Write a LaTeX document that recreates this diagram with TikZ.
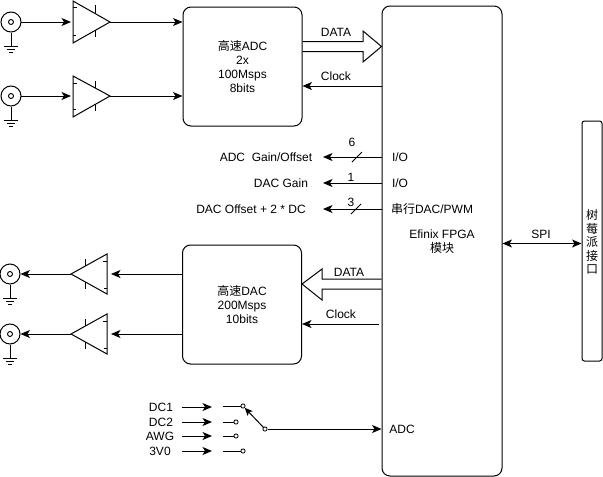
\documentclass[tikz,border=0pt]{standalone}
\usepackage{fontspec}
\setmainfont{Liberation Sans}
\newfontfamily\cjk{Noto Sans CJK SC}
\usetikzlibrary{arrows.meta,shapes.geometric}
\tikzset{
  every node/.style={font=\fontsize{12}{14}\selectfont,inner sep=0pt,align=center},
  wire/.style={line width=1pt,-{Stealth[length=9.5pt,width=8pt,inset=2.5pt]}},
  dblwire/.style={line width=1pt,{Stealth[length=9.5pt,width=8pt,inset=2.5pt]}-{Stealth[length=9.5pt,width=8pt,inset=2.5pt]}},
  plain/.style={line width=1pt},
  blockbox/.style={draw,line width=1pt,rounded corners=8pt,minimum width=119pt,minimum height=119pt},
  bnc/.style={draw,circle,line width=1pt,minimum size=20pt},
  hole/.style={draw,circle,line width=.9pt,minimum size=5pt},
  pin/.style={draw,circle,line width=.8pt,minimum size=4.2pt,fill=white},
  thin tick/.style={line width=.9pt}
}
\newcommand{\gnd}[2]{% coordinate name of the stem end, half widths fixed
  \draw[plain] (#1) -- ++(0,#2)
    ++(-7,0) -- ++(14,0) ++(-11,3) -- ++(8,0) ++(-6,3) -- ++(4,0);}
\begin{document}
\begin{tikzpicture}[x=1pt,y=-1pt]
\useasboundingbox (0,0) rectangle (603,477);
% main blocks
\node[draw,line width=1pt,rounded corners=8pt,minimum width=120pt,minimum height=470pt] (fpga) at (442,241) {};
\node[blockbox] (adc) at (242.5,66.5) {{\cjk 高速}ADC\\2x\\100Msps\\8bits};
\node[blockbox] (dac) at (242,304.5) {{\cjk 高速}DAC\\200Msps\\10bits};
\node[draw,line width=1pt,rounded corners=2.5pt,minimum width=20pt,minimum height=240pt] (rpi) at (592,241) {};
\node (rpit) at (592,242) {\cjk 树\\[-.6pt]\cjk 莓\\[-.6pt]\cjk 派\\[-.6pt]\cjk 接\\[-.6pt]\cjk 口};
% input connectors
\node[bnc] (j1) at (11,22) {}; \node[hole] at (j1) {};
\node[bnc] (j2) at (11,96) {}; \node[hole] at (j2) {};
\node[bnc] (j3) at (10,274) {}; \node[hole] at (j3) {};
\node[bnc] (j4) at (10,334) {}; \node[hole] at (j4) {};
\gnd{j1.south}{14} \gnd{j2.south}{14} \gnd{j3.south}{14} \gnd{j4.south}{14}
% amplifiers
\coordinate (a1in) at (73,22); \coordinate (a1out) at (110,22);
\coordinate (a2in) at (73,96); \coordinate (a2out) at (110,96);
\coordinate (a3in) at (107,274); \coordinate (a3out) at (71,274);
\coordinate (a4in) at (107,334); \coordinate (a4out) at (71,334);
\draw[plain,line join=miter] (a1in)++(0,-21) -- (a1out) -- (73,43) -- cycle;
\draw[plain,line join=miter] (a2in)++(0,-20) -- (a2out) -- (73,117) -- cycle;
\draw[plain,line join=miter] (a3in)++(0,-20) -- (a3out) -- (107,294) -- cycle;
\draw[plain,line join=miter] (a4in)++(0,-20) -- (a4out) -- (107,354) -- cycle;
\draw[thin tick] (95,5) -- (95,13) (95,30) -- (95,37) (95,81) -- (95,88) (95,104) -- (95,111);
\draw[thin tick] (85,259) -- (85,266) (85,282) -- (85,289) (85,319) -- (85,326) (85,342) -- (85,349);
\draw[line width=.7pt] (73,7)--(77,7) (73,35)--(76,35) (73,83)--(77,83) (73,109)--(76,109);
\draw[line width=.7pt] (103,261)--(107,261) (104,288)--(107,288) (103,321)--(107,321) (104,348)--(107,348);
% signal wires
\draw[wire] (j1) ++(10,0) -- (71,22);
\draw[wire] (j2) ++(10,0) -- (71,96);
\draw[wire] (a1out) -- (adc.west |- a1out);
\draw[wire] (a2out) -- (adc.west |- a2out);
\draw[wire] (a3out) -- (j3.east);
\draw[wire] (a4out) -- (j4.east);
\draw[wire] (dac.west |- a3in) -- (111,274);
\draw[wire] (dac.west |- a4in) -- (111,334);
% ADC data bus
\draw[plain,line join=miter] (adc.east |- 0,41.5) -- (363,41.5) -- (363,31) -- (fpga.west |- 0,46.5) -- (363,62) -- (363,51.5) -- (adc.east |- 0,51.5);
\node (l1) at (336,32.5) {DATA};
\draw[wire] (fpga.west |- 0,86) -- (adc.east |- 0,86);
\node (l2) at (336,76.5) {Clock};
% control lines
\node (t1) at (266,157) {ADC\ \ Gain/Offset};
\node (t2) at (281,183) {DAC Gain};
\node (t3) at (251,209) {DAC Offset + 2 * DC};
\node (i1) at (400,157) {I/O};
\node (i2) at (400,183) {I/O};
\node (i3) at (432,209) {{\cjk 串行}DAC/PWM};
\draw[wire] (fpga.west |- t1) -- (323,157);
\draw[wire] (fpga.west |- t2) -- (323,183);
\draw[wire] (fpga.west |- t3) -- (323,209);
\draw[plain] (352,162) -- (362,152) (351,214) -- (361,204);
\node (n6) at (352,142) {6};
\node (n1) at (351,177) {1};
\node (n3) at (351,202) {3};
\node (efx) at (442,242) {Efinix FPGA\\{\cjk 模块}};
% DAC data bus
\draw[plain,line join=miter] (fpga.west |- 0,279) -- (322,279) -- (322,269) -- (dac.east |- 0,284) -- (322,300) -- (322,289) -- (fpga.west |- 0,289);
\node (l3) at (349,272.5) {DATA};
\draw[wire] (379,324) -- (dac.east |- 0,324);
\node (l4) at (341,314.5) {Clock};
% SPI
\draw[dblwire] (fpga.east |- 0,243.5) -- (rpi.west |- 0,243.5);
\node (spi) at (541,234) {SPI};
% selector
\node (s1) at (161,407) {DC1};
\node (s2) at (161,422) {DC2};
\node (s3) at (160,436) {AWG};
\node (s4) at (160,451) {3V0};
\coordinate (s1e) at (212,407); \coordinate (s2e) at (212,422);
\coordinate (s3e) at (212,436); \coordinate (s4e) at (212,451);
\draw[wire] (182,407) -- (s1e);
\draw[wire] (182,422) -- (s2e);
\draw[wire] (182,436) -- (s3e);
\draw[wire] (182,451) -- (s4e);
\node[pin] (p1) at (243,406) {};
\node[pin] (p2) at (236,422) {};
\node[pin] (p3) at (236,436) {};
\node[pin] (p4) at (243,451) {};
\node[pin] (pc) at (265,429) {};
\draw[plain] (223,406) -- (p1) (223,422) -- (p2) (223,436) -- (p3) (223,451) -- (p4);
\draw[line width=1pt,-{Stealth[length=8pt,width=7pt,inset=2pt]}] (pc) -- (p1);
\draw[wire] (pc) -- (fpga.west |- pc);
\node (adcl) at (402,429.5) {ADC};
\end{tikzpicture}
\end{document}
